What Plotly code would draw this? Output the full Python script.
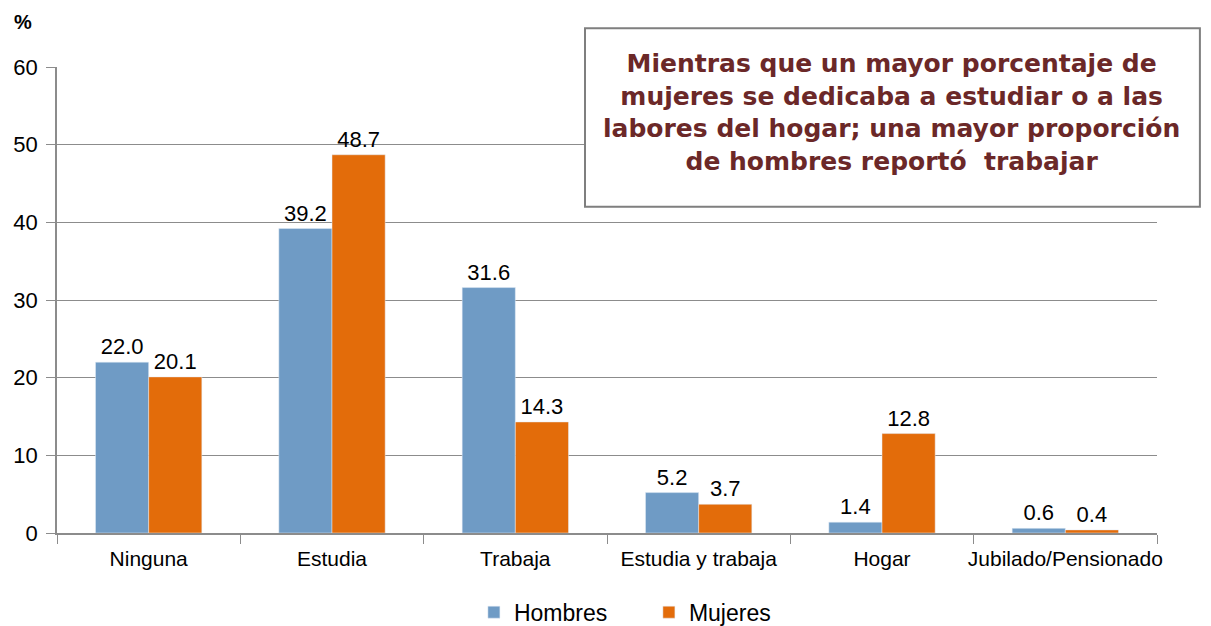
import plotly.graph_objects as go

categorias = ["Ninguna", "Estudia", "Trabaja", "Estudia y trabaja", "Hogar", "Jubilado/Pensionado"]
hombres = [22.0, 39.2, 31.6, 5.2, 1.4, 0.6]
mujeres = [20.1, 48.7, 14.3, 3.7, 12.8, 0.4]

nota = ("Mientras que un mayor porcentaje de<br>mujeres se dedicaba a estudiar o a las<br>"
        "labores del hogar; una mayor proporción<br>de hombres reportó  trabajar")

FONT = "Liberation Sans, Arial, sans-serif"
GRIS = "#8c8c8c"

fig = go.Figure()
fig.add_trace(go.Bar(
    x=categorias, y=hombres, name="Hombres",
    marker_color="#6f9bc5",
    text=[f"{v:.1f}" for v in hombres], textposition="outside",
    textfont=dict(size=22, color="#000000"), cliponaxis=False,
))
fig.add_trace(go.Bar(
    x=categorias, y=mujeres, name="Mujeres",
    marker_color="#e36c0a",
    text=[f"{v:.1f}" for v in mujeres], textposition="outside",
    textfont=dict(size=22, color="#000000"), cliponaxis=False,
))

# la página pone 8px de margen al cuerpo: se compensa en el tamaño
fig.update_layout(
    width=1203, height=618,
    margin=dict(l=49, r=54, t=59, b=93, autoexpand=False),
    paper_bgcolor="white", plot_bgcolor="white",
    barmode="group", bargap=0.42, bargroupgap=0,
    font=dict(family=FONT, size=20, color="#000000"),
    legend=dict(orientation="h", xref="paper", x=0.379, xanchor="left",
                yref="paper", y=-0.17, yanchor="middle",
                font=dict(size=23), traceorder="normal",
                entrywidth=130, itemwidth=30),
    showlegend=True,
)
fig.update_yaxes(
    range=[0, 60], dtick=10, showgrid=True, gridcolor=GRIS, gridwidth=1,
    showline=True, linecolor=GRIS, linewidth=1.5,
    ticks="outside", ticklen=9, tickcolor=GRIS, ticklabelstandoff=4,
    zeroline=False, tickfont=dict(size=22), automargin=False,
)
fig.update_xaxes(
    showline=True, linecolor=GRIS, linewidth=1.5,
    ticks="outside", tickson="boundaries", ticklen=9, tickcolor=GRIS,
    ticklabelstandoff=6, tickfont=dict(size=21), tickangle=0, automargin=False,
)

fig.add_annotation(xref="paper", yref="paper", x=-0.031, y=1.097, text="<b>%</b>",
                   showarrow=False, xanchor="center", yanchor="middle", font=dict(size=20))

fig.add_shape(type="rect", xref="paper", yref="paper", x0=0.48, x1=1.039, y0=0.70, y1=1.083,
              line=dict(color="#7f7f7f", width=2), fillcolor="white", layer="above")
fig.add_annotation(xref="paper", yref="paper", x=0.759, y=0.903, text=f"<b>{nota}</b>",
                   showarrow=False, xanchor="center", yanchor="middle", align="center",
                   font=dict(family="DejaVu Sans, sans-serif", size=25, color="#6b2828"))

fig.write_html("out.html")
